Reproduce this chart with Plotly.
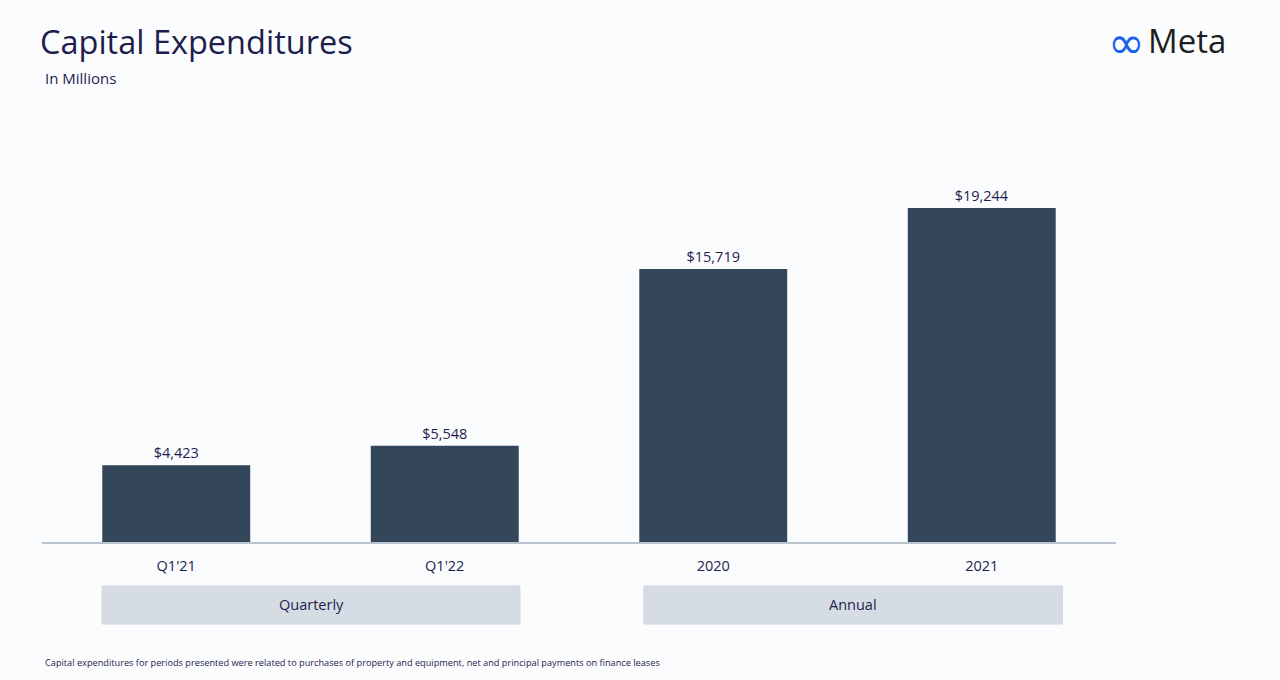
import plotly.graph_objects as go

categories = ["Q1'21", "Q1'22", "2020", "2021"]
values = [4423, 5548, 15719, 19244]
value_labels = ["$4,423", "$5,548", "$15,719", "$19,244"]
groups = ["Quarterly", "Annual"]

BAR = "#33465a"
TEXT = "#1f1d4d"
BG = "#fbfcfe"
FONT = "Open Sans"

fig = go.Figure()
fig.add_trace(go.Bar(
    x=list(range(len(categories))), y=values, width=0.551,
    marker=dict(color=BAR, line=dict(width=0)),
    text=value_labels, textposition="outside", cliponaxis=False,
    textfont=dict(family=FONT, size=14.5, color=TEXT),
    hoverinfo="skip",
))

fig.update_layout(
    width=1280, height=680,
    margin=dict(l=42, r=164, t=100, b=138),
    paper_bgcolor=BG, plot_bgcolor=BG,
    showlegend=False,
    xaxis=dict(range=[-0.5, 3.5], tickvals=list(range(len(categories))), ticktext=categories,
               showgrid=False, zeroline=False, showline=True, linecolor="#b9c3ce", linewidth=1.5,
               ticks="", tickfont=dict(family=FONT, size=14.5, color=TEXT), ticklabelstandoff=10),
    yaxis=dict(range=[0, 25460], visible=False, showgrid=False, zeroline=False),
    font=dict(family=FONT),
)

# group boxes
spans = [(-0.276, 1.28), (1.742, 3.30)]
for (x0, x1), g in zip(spans, groups):
    fig.add_shape(type="rect", xref="x", yref="paper", x0=x0, x1=x1, y0=-0.1855, y1=-0.0995,
                  fillcolor="#d6dce4", line=dict(width=1, color="#cdd4dd"), layer="below")
    fig.add_annotation(xref="x", yref="paper", x=(x0 + x1) / 2, y=-0.1425, text=g, showarrow=False,
                       font=dict(family=FONT, size=14.5, color=TEXT), yanchor="middle")

# title & subtitle
fig.add_annotation(xref="paper", yref="paper", xanchor="left", yanchor="middle",
                   x=-0.004, y=(542 - 41) / 442, text="Capital Expenditures", showarrow=False,
                   font=dict(family=FONT, size=32.5, color=TEXT))
fig.add_annotation(xref="paper", yref="paper", xanchor="left", yanchor="middle",
                   x=0.001, y=(542 - 78) / 442, text="In Millions", showarrow=False,
                   font=dict(family=FONT, size=15, color=TEXT))

# logo
fig.add_annotation(xref="paper", yref="paper", xanchor="left", yanchor="middle",
                   x=(1106 - 42) / 1074, y=(542 - 42) / 442,
                   text="∞", showarrow=False,
                   font=dict(family="DejaVu Sans", size=44, color="#1560f0"))
fig.add_annotation(xref="paper", yref="paper", xanchor="left", yanchor="middle",
                   x=(1146 - 42) / 1074, y=(542 - 40) / 442,
                   text="Meta", showarrow=False,
                   font=dict(family=FONT, size=33, color="#1c1e21"))

# footnote
fig.add_annotation(xref="paper", yref="paper", xanchor="left", yanchor="middle",
                   x=0.001, y=(542 - 662) / 442,
                   text="Capital expenditures for periods presented were related to purchases of property and equipment, net and principal payments on finance leases",
                   showarrow=False, font=dict(family=FONT, size=9.2, color=TEXT))

fig.write_html("out.html", post_script="document.body.style.margin='0';",
               config={"displayModeBar": False})
